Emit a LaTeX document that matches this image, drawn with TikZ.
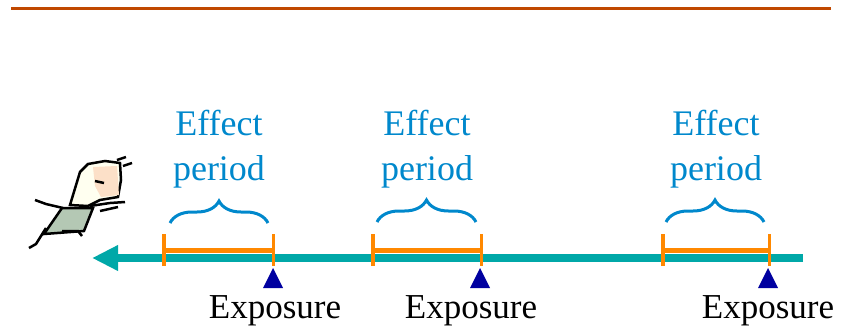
\documentclass[tikz,border=0pt]{standalone}
\usepackage{fontspec}
\setmainfont{Liberation Serif}
\usetikzlibrary{arrows.meta, positioning, decorations.pathreplacing}

\definecolor{rulebrown}{HTML}{C04800}
\definecolor{timeteal}{HTML}{00A8A8}
\definecolor{periodorange}{HTML}{FF8800}
\definecolor{effectblue}{HTML}{0088CC}
\definecolor{markblue}{HTML}{0000A0}
\definecolor{skin}{HTML}{FCE0C8}
\definecolor{hair}{HTML}{FFFFF0}
\definecolor{shirt}{HTML}{B4C8B4}

\begin{document}
\begin{tikzpicture}[x=1pt, y=-1pt,
    every node/.style={inner sep=0pt},
    headrule/.style={draw=rulebrown, line width=3pt},
    timeline/.style={draw=timeteal, line width=8pt, -{Triangle[length=26pt, width=24pt]}},
    period/.style={draw=periodorange, line width=5pt, {Bar[width=32pt, line width=3.5pt]}-{Bar[width=32pt, line width=3.5pt]}},
    effect/.style={text=effectblue, align=center, font=\fontsize{36}{45}\selectfont},
    effectbrace/.style={draw=effectblue, line width=3pt, decorate, decoration={brace, amplitude=22pt, aspect=0.5}},
    expo/.style={font=\fontsize{35}{40}\selectfont, anchor=base},
    expomark/.style={fill=markblue},
    outline/.style={draw=black, line width=2.5pt}]

\useasboundingbox (0,0) rectangle (851,330);

% Rule along the top
\coordinate (rule-l) at (11,8);
\coordinate (rule-r) at (831,8);
\draw[headrule] (rule-l) -- (rule-r);

% Time axis, running right to left
\coordinate (now) at (803,258);
\coordinate (past) at (92,258);
\draw[timeline] (now) -- (past);

% Effect periods
\coordinate (p1l) at (162,250); \coordinate (p1r) at (275,250);
\coordinate (p2l) at (371,250); \coordinate (p2r) at (483,250);
\coordinate (p3l) at (661,250); \coordinate (p3r) at (771,250);
\draw[period] (p1l) -- (p1r);
\draw[period] (p2l) -- (p2r);
\draw[period] (p3l) -- (p3r);

% Braces and their labels
\coordinate (b1l) at (170,223); \coordinate (b1r) at (268,223); \coordinate (b1t) at (219,198);
\coordinate (b2l) at (377,222); \coordinate (b2r) at (476,222); \coordinate (b2t) at (427,198);
\coordinate (b3l) at (666,222); \coordinate (b3r) at (764,222); \coordinate (b3t) at (716,198);
\draw[effectbrace] (b1l) -- (b1r);
\draw[effectbrace] (b2l) -- (b2r);
\draw[effectbrace] (b3l) -- (b3r);
\node[effect, above=10pt of b1t] (eff1) {Effect\\period};
\node[effect, above=10pt of b2t] (eff2) {Effect\\period};
\node[effect, above=10pt of b3t] (eff3) {Effect\\period};

% Exposures
\coordinate (m1) at (273,268);
\coordinate (m2) at (480,268);
\coordinate (m3) at (768,268);
\fill[expomark] (m1) -- ++(-10,20) -- ++(20,0) -- cycle;
\fill[expomark] (m2) -- ++(-10,20) -- ++(20,0) -- cycle;
\fill[expomark] (m3) -- ++(-10,20) -- ++(20,0) -- cycle;
\node[expo] (exp1) at (275,318) {Exposure};
\node[expo] (exp2) at (471,318) {Exposure};
\node[expo] (exp3) at (768,318) {Exposure};

% Little runner on the left
\filldraw[fill=shirt, outline] (62,208) -- (93,208) -- (84,231) -- (44,234) -- cycle;
\filldraw[fill=hair, outline] (70,205) -- (80,172) -- (88,164) -- (105,161) -- (120,163)
    -- (121,180) -- (118,197) -- (100,200) -- (88,206) -- cycle;
\fill[skin] (93,167) -- (117,166) -- (119,195) -- (101,197) -- (95,186) -- cycle;
\draw[outline] (95,181) -- (104,183);
\draw[outline] (117,160) -- (126,157) (123,166) -- (132,163);
\draw[outline] (35,200) -- (46,204) -- (63,208);
\draw[outline] (90,206) -- (110,203) -- (125,202);
\draw[outline] (100,211) -- (118,207);
\draw[outline] (46,228) -- (36,244) -- (29,248);
\draw[outline] (62,231) -- (78,231) -- (82,236);

\end{tikzpicture}
\end{document}
